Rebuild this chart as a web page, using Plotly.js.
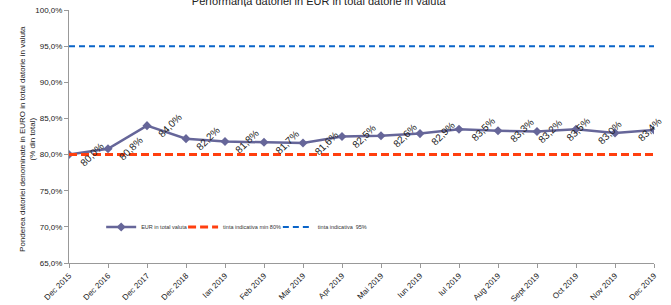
<!DOCTYPE html>
<html>
<head>
<meta charset="utf-8">
<script src="https://cdn.plot.ly/plotly-3.0.1.min.js"></script>
<style>html,body{margin:0;padding:0;background:#fff}#chart{width:671px;height:305px}</style>
</head>
<body>
<div id="chart"></div>
<script>
const categories = ["Dec 2015","Dec 2016","Dec 2017","Dec 2018","Ian 2019","Feb 2019","Mar 2019","Apr 2019","Mai 2019","Iun 2019","Iul 2019","Aug 2019","Sept 2019","Oct 2019","Nov 2019","Dec 2019"];
const eurShare = [80.0, 80.8, 84.0, 82.2, 81.8, 81.7, 81.6, 82.5, 82.6, 82.9, 83.5, 83.3, 83.2, 83.5, 83.0, 83.4];
const targetMin = [80,80,80,80,80,80,80,80,80,80,80,80,80,80,80,80];
const target95 = [95,95,95,95,95,95,95,95,95,95,95,95,95,95,95,95];
const seriesNames = ["EUR in total valuta", "tinta indicativa min 80%", "tinta indicativa  95%"];

// label placement (style, not data)
const labelXShift = [23,23,23,22,22,23,23,22,24,23,24,24,13,2,-5,-4];

const font = "Liberation Sans, Arial, sans-serif";

const traces = [
  {x: categories, y: eurShare, name: seriesNames[0], type: "scatter", mode: "lines+markers", legend: "legend",
   line: {color: "#666699", width: 2.5}, marker: {symbol: "diamond", size: 7, color: "#666699"}},
  {x: categories, y: targetMin, name: seriesNames[1], type: "scatter", mode: "lines", legend: "legend2",
   line: {color: "#FF3F0F", width: 3, dash: "8px,4px"}},
  {x: categories, y: target95, name: seriesNames[2], type: "scatter", mode: "lines", legend: "legend3",
   line: {color: "#0A64C8", width: 2, dash: "6px,4px"}}
];

const annotations = eurShare.map((v, i) => ({
  x: categories[i], y: v, xref: "x", yref: "y",
  text: v.toFixed(1).replace(".", ",") + "%",
  showarrow: false, textangle: -45, xshift: labelXShift[i], yshift: 0,
  font: {family: font, size: 10, color: "#222"}
}));
annotations.push({
  xref: "paper", yref: "paper", x: -0.072, y: 0.49, xanchor: "center", yanchor: "middle",
  text: "Ponderea datoriei denominate in EURO in total datorie in valuta<br>(% din total)",
  textangle: -90, showarrow: false, align: "center",
  font: {family: font, size: 8, color: "#222"}
});

const legendBase = {orientation: "h", yanchor: "middle", xanchor: "left", y: 0.142,
  bgcolor: "rgba(0,0,0,0)", font: {family: font, size: 5.5, color: "#333"}, itemwidth: 30};

const layout = {
  width: 671, height: 305,
  margin: {l: 69, r: 17, t: 10, b: 42},
  paper_bgcolor: "#fff", plot_bgcolor: "#fff",
  separators: ",.",
  font: {family: font, size: 8, color: "#333"},
  title: {text: "Performanța datoriei in EUR in total datorie in valuta",
          font: {family: font, size: 11, color: "#222"}, x: 0.475, xanchor: "center", y: 0.995, yanchor: "middle", yref: "container"},
  xaxis: {type: "category", range: [0, 15], showgrid: false, zeroline: false,
          showline: true, linecolor: "#999", linewidth: 1, ticks: "outside", ticklen: 4, tickcolor: "#999",
          tickangle: -45, tickfont: {family: font, size: 8, color: "#222"}},
  yaxis: {range: [65, 100], dtick: 5, tickformat: ".1f", ticksuffix: "%", showgrid: false, zeroline: false,
          showline: true, linecolor: "#999", linewidth: 1, ticks: "outside", ticklen: 4, tickcolor: "#999",
          tickfont: {family: font, size: 8, color: "#222"}},
  legend: Object.assign({}, legendBase, {x: 0.055}),
  legend2: Object.assign({}, legendBase, {x: 0.195}),
  legend3: Object.assign({}, legendBase, {x: 0.357}),
  showlegend: true,
  annotations: annotations
};

Plotly.newPlot("chart", traces, layout, {displayModeBar: false, staticPlot: true});
</script>
</body>
</html>
